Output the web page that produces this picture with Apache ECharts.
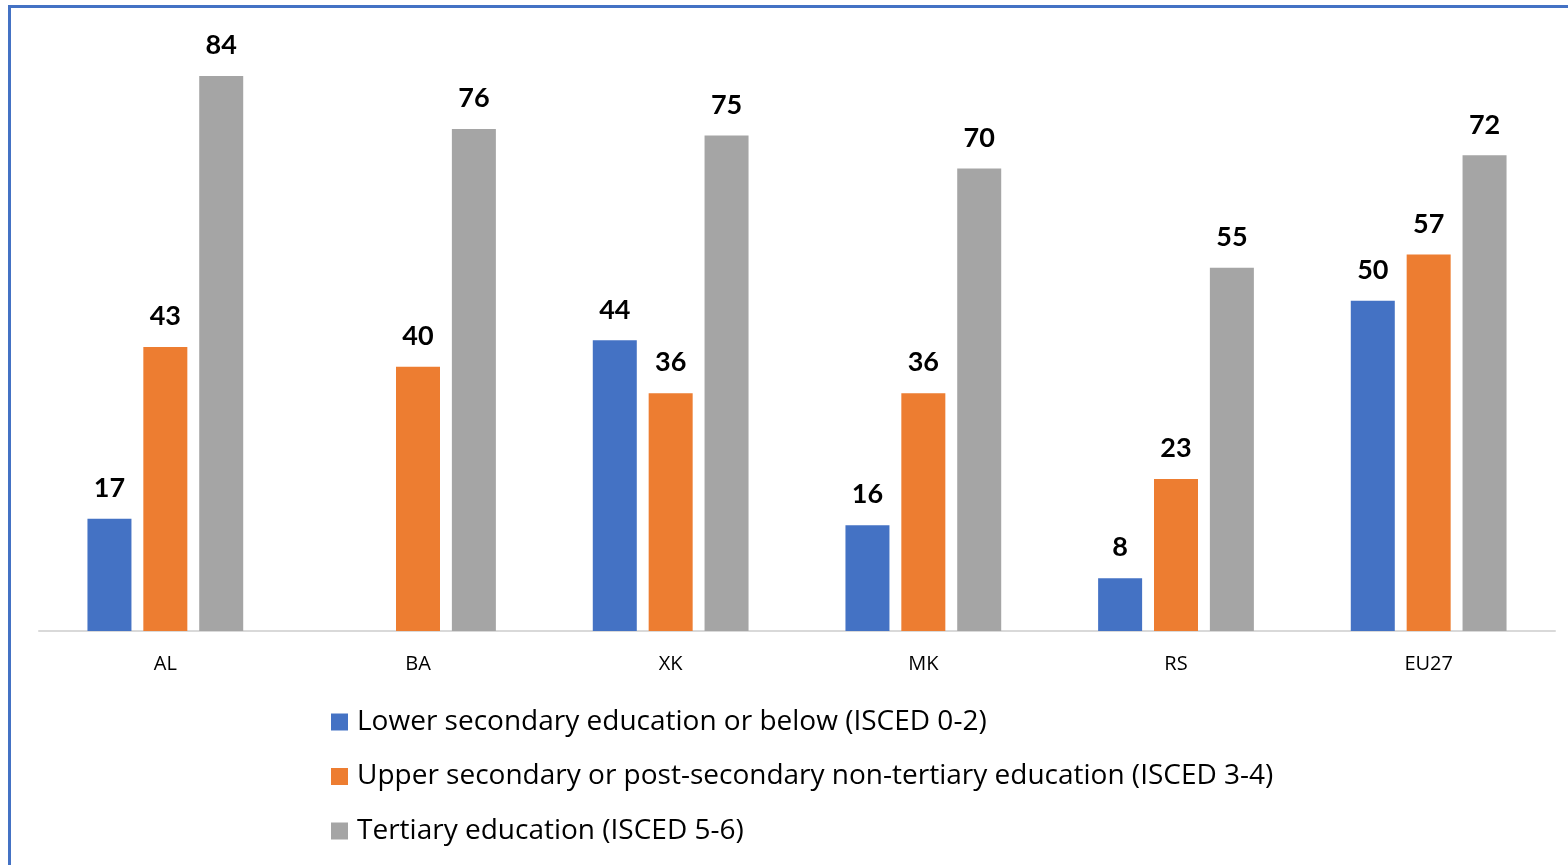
<!DOCTYPE html>
<html>
<head>
<meta charset="utf-8">
<script src="https://cdn.jsdelivr.net/npm/echarts@6/dist/echarts.min.js"></script>
<style>
  html, body { margin: 0; padding: 0; background: #fff; overflow: hidden; }
  #frame {
    position: absolute; left: 8px; top: 5px; width: 1700px; height: 1000px;
    border-top: 3px solid #4472c4; border-left: 3px solid #4472c4; box-sizing: border-box;
  }
  #chart { position: absolute; left: 0; top: 0; width: 1568px; height: 865px; }
</style>
</head>
<body>
<div id="frame"></div>
<div id="chart"></div>
<script>
const categories = ['AL', 'BA', 'XK', 'MK', 'RS', 'EU27'];
const lowerSecondary = [17, null, 44, 16, 8, 50];
const upperSecondary = [43, 40, 36, 36, 23, 57];
const tertiary = [84, 76, 75, 70, 55, 72];
const seriesNames = [
  'Lower secondary education or below (ISCED 0-2)',
  'Upper secondary or post-secondary non-tertiary education (ISCED 3-4)',
  'Tertiary education (ISCED 5-6)'
];
const colors = ['#4472c4', '#ed7d31', '#a5a5a5'];
const labelFont = 'Lato, "Open Sans", sans-serif';
const textFont = '"Open Sans", Lato, sans-serif';

const chart = echarts.init(document.getElementById('chart'), null, { renderer: 'canvas' });

function barSeries(name, data, color) {
  return {
    name: name,
    type: 'bar',
    data: data,
    barWidth: 44,
    barGap: '27%',
    itemStyle: { color: color },
    label: {
      show: true,
      position: 'top',
      distance: 17,
      color: '#000',
      fontFamily: labelFont,
      fontWeight: 'bold',
      fontSize: 27
    }
  };
}

chart.setOption({
  animation: false,
  color: colors,
  grid: { left: 39, right: 13, top: 36.4, bottom: 234, containLabel: false },
  legend: {
    orient: 'vertical',
    left: 331,
    top: 707,
    padding: 0,
    itemWidth: 17,
    itemHeight: 17,
    itemGap: 24.5,
    icon: 'rect',
    textStyle: { fontFamily: textFont, fontSize: 28, lineHeight: 30, color: '#000', padding: [0, 0, 0, 4] },
    data: seriesNames
  },
  xAxis: {
    type: 'category',
    data: categories,
    axisLine: { lineStyle: { color: '#d9d9d9', width: 2 } },
    axisTick: { show: false },
    axisLabel: { color: '#000', fontFamily: textFont, fontSize: 20, margin: 23 }
  },
  yAxis: {
    type: 'value',
    min: 0,
    max: 90,
    interval: 10,
    show: false,
    splitLine: { show: false }
  },
  series: [
    barSeries(seriesNames[0], lowerSecondary, colors[0]),
    barSeries(seriesNames[1], upperSecondary, colors[1]),
    barSeries(seriesNames[2], tertiary, colors[2])
  ]
});
</script>
</body>
</html>
